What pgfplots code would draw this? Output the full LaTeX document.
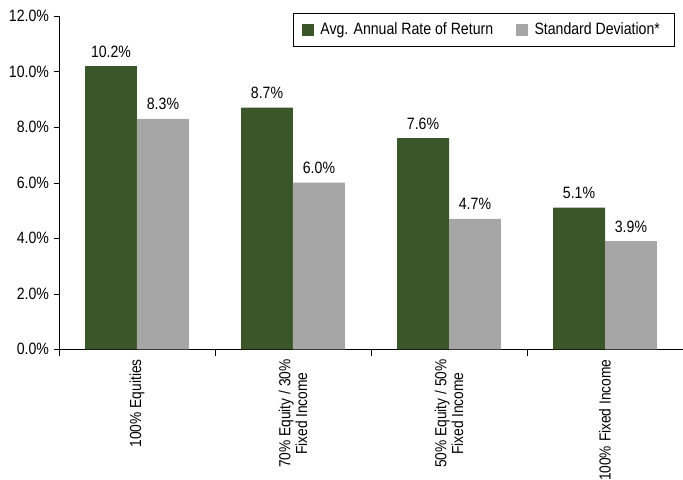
\documentclass[border=0pt]{standalone}
\usepackage{pgfplots}
\pgfplotsset{compat=1.18}
\usetikzlibrary{calc}
\usepackage{fontspec}
\setmainfont{Liberation Sans}[FakeStretch=0.86]
\definecolor{ret}{RGB}{59,86,41}
\definecolor{sd}{RGB}{166,166,166}
\begin{document}
\begin{tikzpicture}
\begin{axis}[
  width=468pt, height=250pt, scale only axis,
  ybar=0pt, bar width=0.333,
  ymin=0, ymax=12, ytick={0,2,...,12},
  xmin=-0.5, xmax=3.5,
  xtick={0,1,2,3},
  xticklabels={100\% Equities, 70\% Equity / 30\%\\Fixed Income, 50\% Equity / 50\%\\Fixed Income, 100\% Fixed Income},
  minor xtick={-0.5,0.5,1.5,2.5},
  major x tick style={draw=none},
  minor x tick style={black},
  minor tick length=5pt,
  major tick length=4pt,
  tick align=outside,
  axis x line*=bottom, axis y line*=left,
  axis line style={-, black},
  x tick label style={rotate=90, anchor=east, align=center, font=\fontsize{12}{12.5}\selectfont},
  y tick label style={font=\fontsize{12.3}{14}\selectfont},
  /pgf/number format/assume math mode=true,
  yticklabel={\pgfmathprintnumber[fixed,fixed zerofill,precision=1]{\tick}\%},
  nodes near coords={\pgfmathprintnumber[fixed,fixed zerofill,precision=1]{\pgfplotspointmeta}\%},
  nodes near coords style={font=\fontsize{12.3}{14}\selectfont, yshift=3pt},
  legend style={at={(rel axis cs:0.987,1.009)}, anchor=north east, draw=black, legend columns=2,
    font=\fontsize{12.3}{15}\selectfont, inner xsep=6pt, inner ysep=5pt,
    /tikz/every even column/.append style={column sep=12pt},
    nodes={inner xsep=5pt}},
  legend image code/.code={\fill[#1] (0pt,-4.5pt) rectangle (9pt,4.5pt);},
  tick style={black},
]
\addplot[fill=ret, draw=none] coordinates {(0,10.2) (1,8.7) (2,7.6) (3,5.1)};
\addplot[fill=sd, draw=none] coordinates {(0,8.3) (1,6.0) (2,4.7) (3,3.9)};
\legend{Avg. Annual Rate of Return, Standard Deviation*}
\end{axis}
\pgfresetboundingbox
\path[use as bounding box] ($(current axis.south west)+(-44.25pt,-97.5pt)$) rectangle ($(current axis.north east)+(0pt,12pt)$);
\end{tikzpicture}
\end{document}
